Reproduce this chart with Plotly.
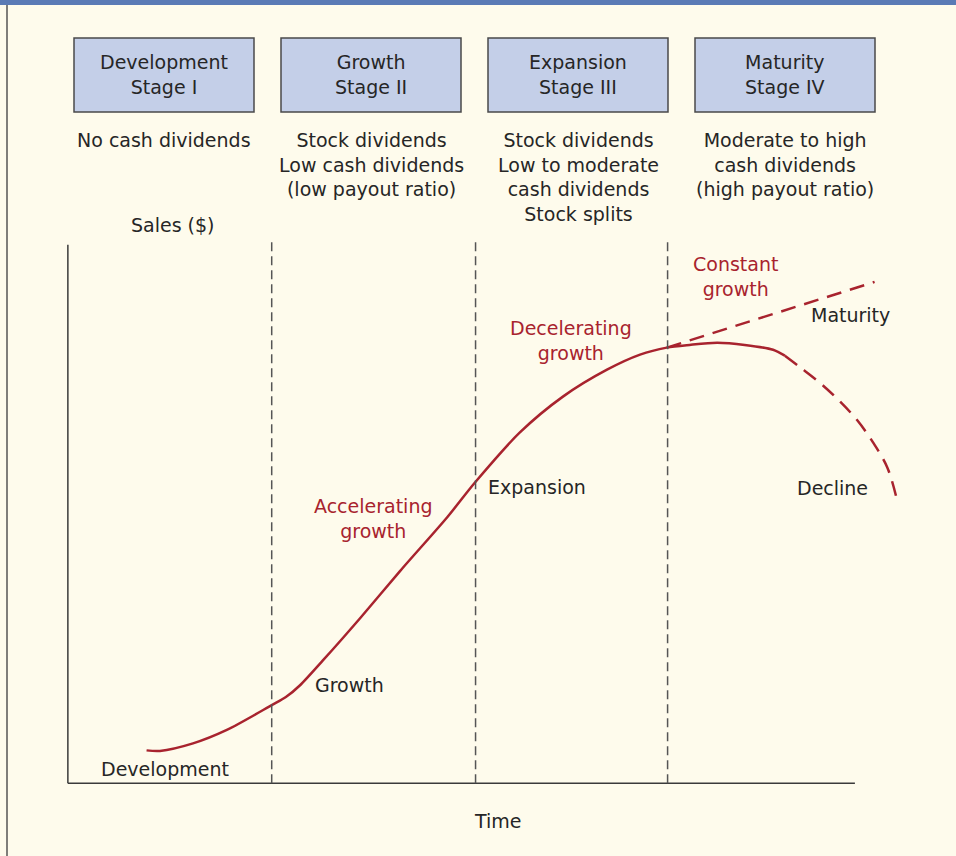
import plotly.graph_objects as go

# stage header boxes and text beneath them
stage_names = ["Development<br>Stage I", "Growth<br>Stage II", "Expansion<br>Stage III", "Maturity<br>Stage IV"]
stage_policy = [
    "No cash dividends",
    "Stock dividends<br>Low cash dividends<br>(low payout ratio)",
    "Stock dividends<br>Low to moderate<br>cash dividends<br>Stock splits",
    "Moderate to high<br>cash dividends<br>(high payout ratio)",
]
# stage boundaries on the time axis (0-100)
stage_bounds = [25.9, 51.8, 76.2]

# life-cycle curve (time, sales)
curve_t = [10.0, 11.7, 15.9, 20.2, 25.9, 27.7, 29.5, 32.4, 37.1, 42.2, 48.2, 51.7, 57.4,
           62.9, 68.5, 72.7, 76.1, 79.0, 82.5, 86.0, 89.6, 91.1]
curve_s = [6.1, 6.0, 7.4, 9.9, 14.5, 16.0, 18.2, 22.8, 30.6, 39.4, 49.4, 55.8, 65.1,
           71.8, 76.8, 79.6, 80.9, 81.4, 81.8, 81.4, 80.5, 79.4]
decline_t = [91.1, 93.0, 95.6, 98.1, 100.3, 102.3, 104.1, 105.3]
decline_s = [79.4, 77.3, 74.3, 70.9, 67.4, 63.3, 58.7, 52.9]
maturity_t = [76.1, 102.5]
maturity_s = [80.9, 93.1]

phase_labels = ["Development", "Growth", "Expansion", "Maturity", "Decline"]
phase_t = [12.3, 35.8, 59.6, 99.4, 97.1]
phase_s = [2.6, 18.2, 55.0, 87.0, 54.8]

growth_labels = ["Accelerating<br>growth", "Decelerating<br>growth", "Constant<br>growth"]
growth_t = [38.8, 63.9, 84.8]
growth_s = [49.1, 82.2, 94.1]

RED = "#A8232E"
INK = "#262626"
BG = "#FEFBEC"
FONT = "DejaVu Sans"
FS = 19

# plot area in pixels
L, R, T, B = 60, 910, 234, 794
W, H = 956, 856


def px(x):
    return (x - L) / (R - L)


def py(y):
    return (B - y) / (B - T)


fig = go.Figure()

fig.add_trace(go.Scatter(x=curve_t, y=curve_s, mode="lines", line_shape="spline",
                         line=dict(color=RED, width=2.5, smoothing=0.8), hoverinfo="skip"))
fig.add_trace(go.Scatter(x=decline_t, y=decline_s, mode="lines", line_shape="spline",
                         line=dict(color=RED, width=2.5, dash="15px,9px"), hoverinfo="skip"))
fig.add_trace(go.Scatter(x=maturity_t, y=maturity_s, mode="lines",
                         line=dict(color=RED, width=2.5, dash="15px,9px"), hoverinfo="skip"))

shapes = []
# axes
shapes.append(dict(type="line", xref="x", yref="y", x0=0, x1=0, y0=0, y1=100,
                   line=dict(color="#3a3a3a", width=1.5)))
shapes.append(dict(type="line", xref="x", yref="y", x0=0, x1=100, y0=0, y1=0,
                   line=dict(color="#3a3a3a", width=1.5)))
# stage dividers
for b in stage_bounds:
    shapes.append(dict(type="line", xref="x", yref="y", x0=b, x1=b, y0=0, y1=100.5,
                       line=dict(color="#555555", width=1.5, dash="9px,5px")))

# frame: blue top bar and left rule
shapes.append(dict(type="rect", xref="paper", yref="paper", x0=px(0), x1=px(W), y0=py(0), y1=py(5),
                   fillcolor="#5A7AB5", line=dict(width=0)))
shapes.append(dict(type="line", xref="paper", yref="paper", x0=px(7), x1=px(7), y0=py(5), y1=py(H),
                   line=dict(color="#555555", width=1.5)))

annotations = []


def add_text(text, x, y, xref="paper", yref="paper", color=INK, yanchor="middle"):
    annotations.append(dict(xref=xref, yref=yref, x=x, y=y, text=text, showarrow=False,
                            xanchor="center", yanchor=yanchor, borderpad=0,
                            font=dict(size=FS, color=color, family=FONT)))


box_cx = [164, 371, 578, 785]
for cx, name, pol in zip(box_cx, stage_names, stage_policy):
    shapes.append(dict(type="rect", xref="paper", yref="paper",
                       x0=px(cx - 90), x1=px(cx + 90), y0=py(38), y1=py(112),
                       fillcolor="#C4CFE8", line=dict(color="#4a4a4a", width=1.5)))
    add_text(name, px(cx), py(75))
    add_text(pol, px(cx), py(128), yanchor="top")

add_text("Sales ($)", px(173), py(225))
add_text("Time", px(498), py(821))

for lab, t, s in zip(phase_labels, phase_t, phase_s):
    add_text(lab, t, s, xref="x", yref="y")
for lab, t, s in zip(growth_labels, growth_t, growth_s):
    add_text(lab, t, s, xref="x", yref="y", color=RED)

fig.update_layout(
    width=W, height=H,
    margin=dict(l=L, r=W - R, t=T, b=H - B, pad=0),
    paper_bgcolor=BG, plot_bgcolor=BG,
    showlegend=False,
    xaxis=dict(range=[-1, 107], visible=False, fixedrange=True),
    yaxis=dict(range=[-2, 102], visible=False, fixedrange=True),
    shapes=shapes,
    annotations=annotations,
)

fig.write_html("out.html", config=dict(displayModeBar=False),
               post_script="document.body.style.margin='0';")
